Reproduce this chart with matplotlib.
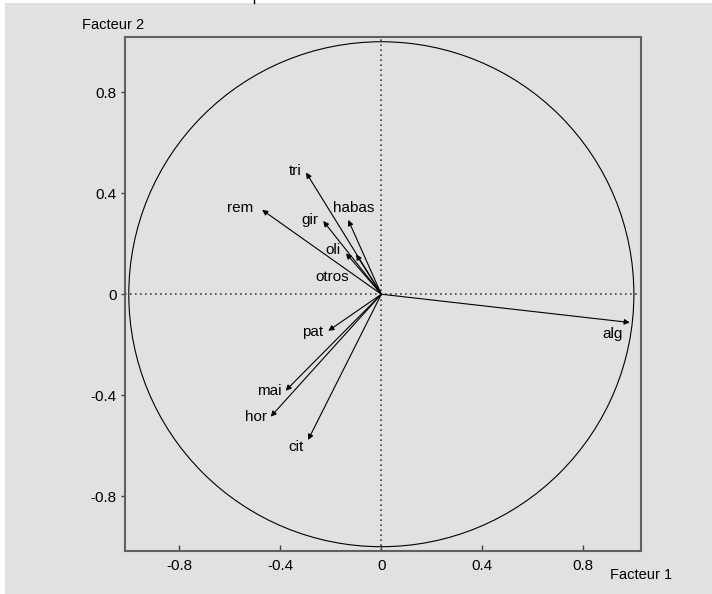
import matplotlib
matplotlib.use('Agg')
import matplotlib.pyplot as plt
from matplotlib.patches import Circle, Rectangle
from matplotlib.lines import Line2D

plt.rcParams['font.family'] = ['Liberation Sans', 'DejaVu Sans']

# variable coordinates on factors 1 and 2
variables = ['alg', 'tri', 'rem', 'gir', 'habas', 'oli', 'otros', 'pat', 'mai', 'hor', 'cit']
f1 = [0.984, -0.298, -0.472, -0.230, -0.131, -0.140, -0.100, -0.210, -0.379, -0.438, -0.290]
f2 = [-0.112, 0.482, 0.334, 0.290, 0.294, 0.162, 0.158, -0.145, -0.382, -0.485, -0.577]

ticks = [-0.8, -0.4, 0, 0.4, 0.8]
tick_labels = ['-0.8', '-0.4', '0', '0.4', '0.8']

# label offsets from arrow tips (pixels)
label_offsets = [(-17, -11), (-11, 2), (-22, 2), (-13, 1), (5, 12), (-13, 3),
                 (-24, -23), (-16, -1), (-16, 0), (-15, 0), (-12, -7)]

bg = '#e1e1e1'
fig = plt.figure(figsize=(7.12, 5.94), dpi=100, facecolor='white')
fig.add_artist(Rectangle((5 / 712, 0), 1, 1 - 3 / 594, transform=fig.transFigure,
                         facecolor=bg, edgecolor='none', zorder=0))
fig.add_artist(Line2D([254 / 712, 254 / 712], [1 - 3 / 594, 1], transform=fig.transFigure,
                      color='black', lw=1))

ax = fig.add_axes([125 / 712, 1 - 551 / 594, (640.7 - 125) / 712, (551 - 36.7) / 594])
ax.set_facecolor(bg)
ax.set_xlim(-1.015, 1.027)
ax.set_ylim(-1.017, 1.02)

for s in ax.spines.values():
    s.set_color('#606060')
    s.set_linewidth(1.5)

ax.add_patch(Circle((0, 0), 1, fill=False, edgecolor='black', lw=0.8))
ax.axhline(0, color='#404040', lw=1.2, ls=(0, (1, 2)))
ax.axvline(0, color='#404040', lw=1.2, ls=(0, (1, 2)))

for name, x, y, off in zip(variables, f1, f2, label_offsets):
    ax.annotate('', xy=(x, y), xytext=(0, 0),
                arrowprops=dict(arrowstyle='-|>', color='black', lw=0.8,
                                mutation_scale=8, shrinkA=0, shrinkB=0))
    ax.annotate(name, xy=(x, y), xytext=off, textcoords='offset pixels',
                ha='center', va='center', fontsize=11)

ax.set_xticks(ticks)
ax.set_xticklabels(tick_labels)
ax.set_yticks(ticks)
ax.set_yticklabels(tick_labels)
ax.tick_params(axis='x', direction='in', length=4, width=1, labelsize=11, pad=6, color='#404040')
ax.tick_params(axis='y', direction='out', length=3, width=1, labelsize=11, pad=3, color='#404040')

fig.text(82 / 712, 1 - 25 / 594, 'Facteur 2', fontsize=10.5, ha='left', va='center')
fig.text(610 / 712, 1 - 575 / 594, 'Facteur 1', fontsize=10.5, ha='left', va='center')

fig.savefig('out.png', dpi=100, facecolor=fig.get_facecolor())
